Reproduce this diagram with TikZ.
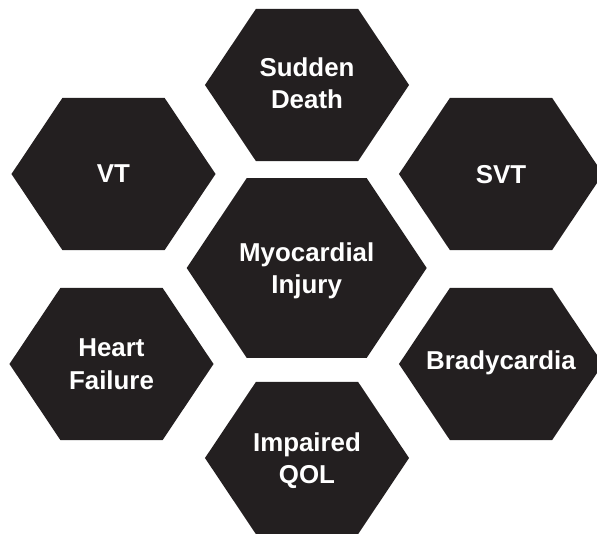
\documentclass[tikz,border=0pt]{standalone}
\usepackage{fontspec}
\setmainfont{Liberation Sans}
\definecolor{hexblack}{HTML}{231F20}
\usepackage{tikz}
\usetikzlibrary{calc, shapes.geometric, positioning}
\tikzset{
	hexnode/.style={
			rectangle,
			draw=none,
			inner sep=0pt,
			minimum width=5.1cm,
			minimum height=3.81cm,
			text=white,
			text depth=0pt,
			align=center,
			font=\bfseries\fontsize{18.4}{23}\selectfont,
			path picture={
					\fill[hexblack] (path picture bounding box.west)
					-- ($(path picture bounding box.north west)!.25!(path picture bounding box.north east)$)
					-- ($(path picture bounding box.north west)!.75!(path picture bounding box.north east)$)
					-- (path picture bounding box.east)
					-- ($(path picture bounding box.south west)!.75!(path picture bounding box.south east)$)
					-- ($(path picture bounding box.south west)!.25!(path picture bounding box.south east)$)
					-- cycle;
				}
		},
	bighexnode/.style={
			hexnode,
			minimum width=6cm,
			minimum height=4.49cm
		}
}
\begin{document}
\begin{tikzpicture}[x=0.025cm, y=-0.025cm]

\useasboundingbox (0,0) rectangle (597,533);

% centre cell
\node[bighexnode, text depth=-0.2cm] (hMI) at (306.7,268) {Myocardial\\Injury};

% ring of outcomes
\node[hexnode, text depth=0.1cm] (hSD) at (307,85) {Sudden\\Death};
\node[hexnode, text depth=-0.175cm] (hVT) at (113.5,174) {VT};
\node[hexnode, text depth=-0.325cm] (hSVT) at (501,174) {SVT};
\node[hexnode, text depth=-0.1cm] (hHF) at (111.5,364) {Heart\\Failure};
\node[hexnode, text depth=0.2cm] (hBR) at (501,364) {Bradycardia};
\node[hexnode, text depth=-0.1cm] (hQOL) at (307,458) {Impaired\\QOL};

\end{tikzpicture}
\end{document}
